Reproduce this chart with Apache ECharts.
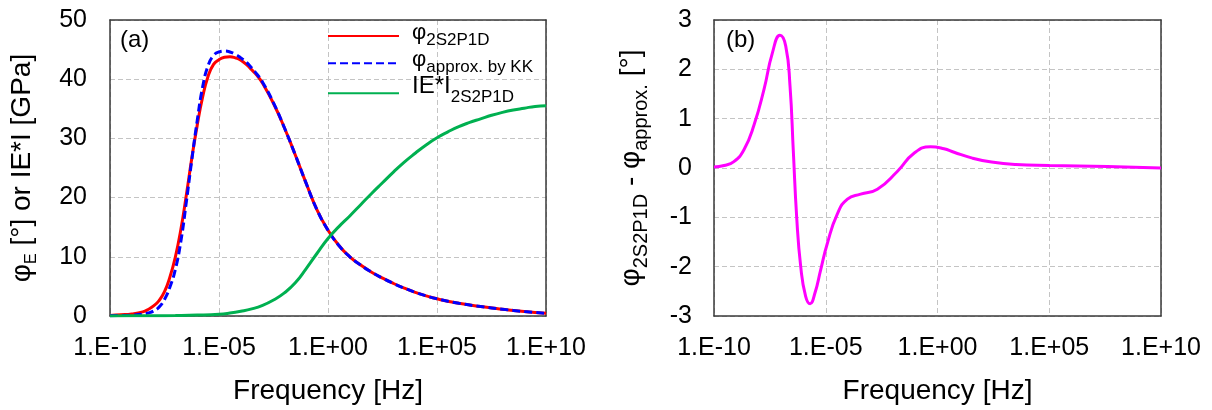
<!DOCTYPE html>
<html>
<head>
<meta charset="utf-8">
<script src="https://cdn.jsdelivr.net/npm/echarts@6/dist/echarts.min.js"></script>
<style>html,body{margin:0;padding:0;background:#fff}#c{width:1212px;height:410px}</style>
</head>
<body>
<div id="c"></div>
<script>
// ---------- Data (log10 of frequency in Hz) ----------
const phiExp = [-10,-9.5,-9,-8.5,-8.25,-8,-7.75,-7.5,-7.25,-7,-6.75,-6.5,-6.25,-6,-5.75,-5.5,-5.25,-5,-4.75,-4.5,-4.25,-4,-3.75,-3.5,-3.25,-3,-2.5,-2,-1.5,-1,-0.5,0,0.5,1,1.5,2,2.5,3,3.5,4,4.5,5,6,7,8,9,10];
const phi2S2P1D = [0.1,0.2,0.35,0.7,1.1,1.7,2.6,4.1,6.6,10.0,14.6,20.4,26.6,32.2,37.0,40.5,42.5,43.3,43.7,43.8,43.6,43.2,42.5,41.6,40.6,39.3,35.9,31.8,27.2,22.4,17.9,14.5,11.9,10.0,8.6,7.4,6.4,5.5,4.7,4.0,3.4,2.9,2.15,1.6,1.15,0.75,0.45];
const phiApproxKK = [0.05,0.08,0.15,0.3,0.5,0.85,1.5,2.8,4.9,7.9,12.6,19.2,26.3,33.0,38.7,42.3,44.0,44.6,44.75,44.6,44.2,43.6,42.9,41.9,40.8,39.5,36.0,31.8,27.2,22.4,17.9,14.5,11.9,10.0,8.6,7.4,6.4,5.5,4.7,4.0,3.4,2.9,2.15,1.6,1.15,0.75,0.45];

const modExp = [-10,-9,-8,-7,-6,-5,-4.5,-4,-3.5,-3,-2.5,-2,-1.5,-1,-0.5,0,0.5,1,1.5,2,2.5,3,3.5,4,4.5,5,5.5,6,6.5,7,7.5,8,8.5,9,9.5,10];
const modulus2S2P1D = [0.02,0.03,0.05,0.08,0.15,0.3,0.5,0.8,1.2,1.8,2.7,3.9,5.6,8.0,10.6,13.1,15.1,16.9,18.8,20.7,22.5,24.3,26.0,27.5,28.9,30.1,31.1,32.0,32.7,33.3,33.9,34.4,34.8,35.1,35.4,35.5];

const diffExp = [-10,-9.55,-9.11,-8.66,-8.21,-7.76,-7.39,-7.05,-6.79,-6.6,-6.45,-6.3,-6.12,-5.9,-5.7,-5.48,-5.23,-4.93,-4.48,-4.03,-3.44,-2.69,-1.8,-1.05,-0.31,0.29,0.74,1.56,2.42,3.5,5,7.6,10];
const phiDiff = [0.02,0.05,0.13,0.37,0.87,1.6,2.33,2.69,2.47,1.67,0.33,-1.0,-2.0,-2.6,-2.75,-2.53,-2.07,-1.53,-0.93,-0.63,-0.53,-0.43,-0.07,0.3,0.43,0.39,0.32,0.2,0.12,0.07,0.05,0.03,0.0];

const xTickExp = [-10,-5,0,5,10];
const yTicksA = [0,10,20,30,40,50];
const yTicksB = [-3,-2,-1,0,1,2,3];

// ---------- helpers ----------
const FONT = "'Liberation Sans', Arial, sans-serif";
const pairs = (ex, ys) => ex.map((e, i) => [Math.pow(10, e), ys[i]]);
const fmtExp = v => {
  const e = Math.round(Math.log10(v));
  return '1.E' + (e < 0 ? '-' : '+') + String(Math.abs(e)).padStart(2, '0');
};

const gridLine = { show: true, lineStyle: { color: '#c4c4c4', width: 1, type: [5, 3] } };
const frameLine = { show: true, onZero: false, lineStyle: { color: '#3a3a3a', width: 1.5 } };

function mainX(gi) {
  return {
    gridIndex: gi, type: 'log', logBase: 10,
    min: Math.pow(10, xTickExp[0]), max: Math.pow(10, xTickExp[xTickExp.length - 1]),
    interval: xTickExp[1] - xTickExp[0], splitNumber: xTickExp.length - 1,
    axisLine: frameLine, axisTick: { show: false },
    axisLabel: { formatter: fmtExp, fontSize: 25, color: '#000', fontFamily: FONT, margin: 20, showMinLabel: true, showMaxLabel: true },
    splitLine: gridLine,
    name: 'Frequency [Hz]', nameLocation: 'middle', nameGap: 61,
    nameTextStyle: { fontSize: 28, color: '#000', fontFamily: FONT }
  };
}
function frameX(gi) {
  return { gridIndex: gi, type: 'value', position: 'top', min: 0, max: 1,
    axisLine: frameLine, axisTick: { show: false }, axisLabel: { show: false }, splitLine: { show: false } };
}
function frameY(gi) {
  return { gridIndex: gi, type: 'value', position: 'right', min: 0, max: 1,
    axisLine: frameLine, axisTick: { show: false }, axisLabel: { show: false }, splitLine: { show: false } };
}

// rich-text token: top-aligned, shifted down by padTop (used for subscripts)
const tok = (fs, padTop) => ({ fontSize: fs, verticalAlign: 'top', padding: [padTop, 0, 0, 0], fontWeight: 'normal', fontFamily: FONT, color: '#000' });

// legend: icons from the ECharts legend, labels (with subscripts) as rich text
function legendAt(name, top) {
  return {
    data: [name], orient: 'vertical', left: 327, top: top, padding: 0,
    itemWidth: 71, itemHeight: 14, itemGap: 0,
    itemStyle: { opacity: 0 },
    formatter: () => ''
  };
}
const legendRich = { p: tok(22, 0), s: tok(17, 9.5), m: tok(24, 2.5), t: tok(17, 17.5) };
function legendText(text, top) {
  return { text: text, left: 412, top: top, padding: 0, textStyle: { rich: legendRich, fontWeight: 'normal', fontFamily: FONT } };
}
const panelText = { fontSize: 24, fontWeight: 'normal', color: '#000', fontFamily: FONT };

const option = {
  animation: false,
  backgroundColor: '#fff',
  textStyle: { fontFamily: FONT },
  title: [
    { text: '(a)', left: 120, top: 28, padding: 0, textStyle: panelText },
    { text: '(b)', left: 726, top: 28, padding: 0, textStyle: panelText },
    legendText('{p|φ}{s|2S2P1D}', 21.9),
    legendText('{p|φ}{s|approx. by KK}', 49.4),
    legendText('{m|IE*I}{t|2S2P1D}', 71.4)
  ],
  legend: [legendAt('phi2S2P1D', 29), legendAt('phiKK', 56.3), legendAt('mod2S2P1D', 86.3)],
  grid: [
    { left: 110, top: 20, width: 436, height: 300, containLabel: false },
    { left: 714, top: 20, width: 447, height: 300, containLabel: false }
  ],
  xAxis: [mainX(0), mainX(1), frameX(0), frameX(1)],
  yAxis: [
    {
      gridIndex: 0, type: 'value', min: yTicksA[0], max: yTicksA[yTicksA.length - 1], interval: yTicksA[1] - yTicksA[0],
      axisLine: frameLine, axisTick: { show: false }, splitLine: gridLine,
      axisLabel: { fontSize: 25, color: '#000', fontFamily: FONT, margin: 23 },
      name: '{p|φ}{s|E}{m| [°] or IE*I [GPa]}', nameLocation: 'middle', nameGap: 70.6,
      nameTextStyle: { rich: { p: tok(28, 0), m: tok(28, 0), s: tok(16, 14.7) } }
    },
    {
      gridIndex: 1, type: 'value', min: yTicksB[0], max: yTicksB[yTicksB.length - 1], interval: yTicksB[1] - yTicksB[0],
      axisLine: frameLine, axisTick: { show: false }, splitLine: gridLine,
      axisLabel: { fontSize: 25, color: '#000', fontFamily: FONT, margin: 22 },
      name: '{p|φ}{s|2S2P1D}{m| - }{p|φ}{s|approx.}{m| [°]}', nameLocation: 'middle', nameGap: 63,
      nameTextStyle: { rich: { p: tok(28, 0), m: tok(28, 0), s: tok(20, 13.8) } }
    },
    frameY(0), frameY(1)
  ],
  series: [
    { name: 'phi2S2P1D', type: 'line', xAxisIndex: 0, yAxisIndex: 0, data: pairs(phiExp, phi2S2P1D),
      symbol: 'none', smooth: 0.5, lineStyle: { color: '#ff0000', width: 3 }, itemStyle: { color: '#ff0000' } },
    { name: 'phiKK', type: 'line', xAxisIndex: 0, yAxisIndex: 0, data: pairs(phiExp, phiApproxKK),
      symbol: 'none', smooth: 0.5, lineStyle: { color: '#0000ff', width: 3, type: [8, 4] }, itemStyle: { color: '#0000ff' } },
    { name: 'mod2S2P1D', type: 'line', xAxisIndex: 0, yAxisIndex: 0, data: pairs(modExp, modulus2S2P1D),
      symbol: 'none', smooth: 0.5, lineStyle: { color: '#00b050', width: 3 }, itemStyle: { color: '#00b050' } },
    { name: 'diff', type: 'line', xAxisIndex: 1, yAxisIndex: 1, data: pairs(diffExp, phiDiff),
      symbol: 'none', smooth: 0.5, lineStyle: { color: '#ff00ff', width: 3 }, itemStyle: { color: '#ff00ff' } }
  ]
};

const chart = echarts.init(document.getElementById('c'), null, { renderer: 'canvas' });
chart.setOption(option);
</script>
</body>
</html>
